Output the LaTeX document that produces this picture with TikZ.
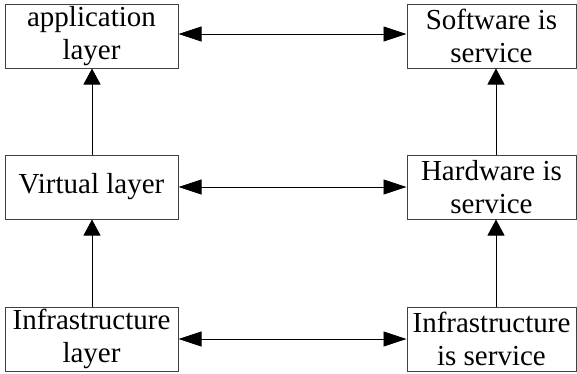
\documentclass[tikz,border=0pt]{standalone}
\usepackage{fontspec}
\setmainfont{Liberation Serif}
\usetikzlibrary{arrows.meta}
\begin{document}
\begin{tikzpicture}[x=1pt,y=-1pt,
  box/.style={draw=black!75,line width=1pt,minimum height=64pt,inner sep=0pt,
    align=center,font=\fontsize{29}{33}\selectfont},
  lbox/.style={box,minimum width=173pt},
  rbox/.style={box,minimum width=169pt},
  harr/.style={line width=0.9pt,{Triangle[length=23pt,width=15pt]}-{Triangle[length=23pt,width=15pt]}},
  varr/.style={line width=0.9pt,-{Triangle[length=16pt,width=17pt]}}]
\useasboundingbox (0,0) rectangle (577,373);
\node[lbox] (A) at (91.5,36) {application\\layer};
\node[rbox] (B) at (491.5,36) {Software is\\service};
\node[lbox] (C) at (91.5,187) {Virtual layer};
\node[rbox] (D) at (491.5,187) {Hardware is\\service};
\node[lbox] (E) at (91.5,339) {Infrastructure\\layer};
\node[rbox] (F) at (491.5,339) {Infrastructure\\is service};
\draw[harr] ([yshift=2pt]A.east) -- ([yshift=2pt]B.west);
\draw[harr] (C.east) -- (D.west);
\draw[harr] (E.east) -- (F.west);
\draw[varr] ([xshift=0.5pt]C.north) -- ([xshift=0.5pt]A.south);
\draw[varr] ([xshift=0.5pt]E.north) -- ([xshift=0.5pt]C.south);
\draw[varr] ([xshift=4.5pt]D.north) -- ([xshift=4.5pt]B.south);
\draw[varr] ([xshift=4.5pt]F.north) -- ([xshift=4.5pt]D.south);
\end{tikzpicture}
\end{document}
